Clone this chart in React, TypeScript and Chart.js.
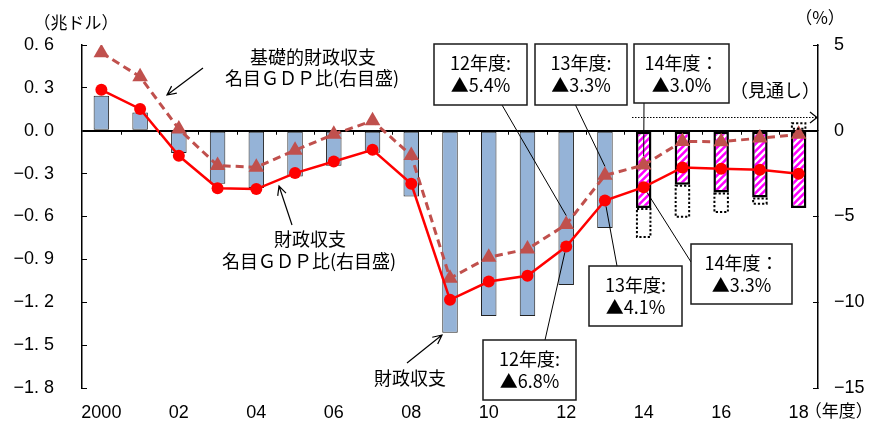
import React, { useEffect, useRef } from "react";
import { Chart, registerables } from "chart.js";

Chart.register(...registerables);

// ---------- data ----------
const years = [
  "2000", "2001", "2002", "2003", "2004", "2005", "2006", "2007", "2008", "2009",
  "2010", "2011", "2012", "2013", "2014", "2015", "2016", "2017", "2018",
];
const xTickLabels = [
  "2000", "", "02", "", "04", "", "06", "", "08", "", "10", "", "12", "", "14", "", "16", "", "18",
];
// 財政収支（兆ドル, 実績）
const balanceActual = [
  0.245, 0.128, -0.156, -0.371, -0.4, -0.32, -0.245, -0.154, -0.46, -1.413,
  -1.296, -1.296, -1.079, -0.68, null, null, null, null, null,
];
// 財政収支（兆ドル, 見通し）
const balanceOutlook = [
  null, null, null, null, null, null, null, null, null, null,
  null, null, null, null, -0.54, -0.378, -0.432, -0.467, -0.541,
];
// 前回見通しとの差（兆ドル, 点線枠）
const outlookRevision = [
  null, null, null, null, null, null, null, null, null, null,
  null, null, null, null, -0.21, -0.23, -0.144, -0.05, 0.06,
];
// 財政収支 名目GDP比（%, 右目盛）
const balanceRatio = [
  2.39, 1.27, -1.46, -3.35, -3.4, -2.47, -1.79, -1.11, -3.09, -9.86,
  -8.79, -8.46, -6.75, -4.07, -3.29, -2.14, -2.22, -2.28, -2.51,
];
// 基礎的財政収支 名目GDP比（%, 右目盛）
const primaryRatio = [
  4.55, 3.15, 0.1, -2.03, -2.13, -1.14, -0.21, 0.58, -1.44, -8.6,
  -7.38, -6.9, -5.47, -2.6, -2.0, -0.62, -0.64, -0.43, -0.21,
];
const leftTicks = { min: -1.8, max: 0.6, step: 0.3 };
const rightTicks = { min: -15, max: 5, step: 5 };

const JP = "'Noto Sans CJK JP', 'Noto Sans CJK SC', sans-serif";
const NUM = "'Liberation Sans Narrow', 'Arial Narrow', 'Liberation Sans', sans-serif";

function makeHatch(): CanvasPattern | string {
  const s = 7;
  const c = document.createElement("canvas");
  c.width = s;
  c.height = s;
  const g = c.getContext("2d");
  if (!g) return "#FF00FF";
  g.fillStyle = "#FF00FF";
  g.fillRect(0, 0, s, s);
  g.strokeStyle = "#FFFFFF";
  g.lineWidth = 2.4;
  g.beginPath();
  for (const off of [-s, 0, s]) {
    g.moveTo(-1 + off, s + 1);
    g.lineTo(s + 1 + off, -1);
  }
  g.stroke();
  const p = g.createPattern(c, "repeat");
  return p || "#FF00FF";
}

function arrow(ctx: CanvasRenderingContext2D, x1: number, y1: number, x2: number, y2: number) {
  ctx.save();
  ctx.strokeStyle = "#000";
  ctx.lineWidth = 1.2;
  ctx.beginPath();
  ctx.moveTo(x1, y1);
  ctx.lineTo(x2, y2);
  const a = Math.atan2(y2 - y1, x2 - x1);
  const L = 10;
  ctx.moveTo(x2 - L * Math.cos(a - 0.45), y2 - L * Math.sin(a - 0.45));
  ctx.lineTo(x2, y2);
  ctx.lineTo(x2 - L * Math.cos(a + 0.45), y2 - L * Math.sin(a + 0.45));
  ctx.stroke();
  ctx.restore();
}

function text(ctx: CanvasRenderingContext2D, s: string, x: number, y: number, size = 18, align: CanvasTextAlign = "center", font = JP) {
  ctx.save();
  ctx.fillStyle = "#000";
  ctx.font = `${size}px ${font}`;
  ctx.textAlign = align;
  ctx.textBaseline = "middle";
  ctx.fillText(s, x, y);
  ctx.restore();
}

const annotationPlugin = {
  id: "annotations",
  afterDatasetsDraw(chart: any) {
    const ctx: CanvasRenderingContext2D = chart.ctx;
    const x = chart.scales.x;
    const y = chart.scales.y;
    const y0 = y.getPixelForValue(0);

    // small tick marks on zero line between categories
    ctx.save();
    ctx.strokeStyle = "#000";
    ctx.lineWidth = 1;
    for (let i = 0; i < years.length - 1; i++) {
      const mx = Math.round((x.getPixelForValue(i) + x.getPixelForValue(i + 1)) / 2) + 0.5;
      ctx.beginPath();
      ctx.moveTo(mx, y0);
      ctx.lineTo(mx, y0 + 4);
      ctx.stroke();
    }
    ctx.restore();

    // dotted boxes (revision)
    const revMeta = chart.getDatasetMeta(4);
    ctx.save();
    ctx.strokeStyle = "#000";
    ctx.lineWidth = 2;
    ctx.setLineDash([2.2, 2]);
    revMeta.data.forEach((el: any, i: number) => {
      if (outlookRevision[i] == null) return;
      const { x: bx, y: by, base, width } = el.getProps(["x", "y", "base", "width"], true);
      const top = Math.min(by, base);
      const bot = Math.max(by, base);
      ctx.strokeRect(bx - width / 2 + 1, top + 1, width - 2, bot - top - 2);
    });
    ctx.restore();
  },
  afterDraw(chart: any) {
    const ctx: CanvasRenderingContext2D = chart.ctx;
    const x = chart.scales.x;
    const primMeta = chart.getDatasetMeta(0);
    const balMeta = chart.getDatasetMeta(1);

    // leader lines
    const lead = (sx: number, sy: number, p: any, r: number, tri: boolean) => {
      let ex = p.x, ey = p.y;
      if (tri) {
        ey = p.y - r;
      } else {
        const a = Math.atan2(sy - p.y, sx - p.x);
        ex = p.x + r * Math.cos(a);
        ey = p.y + r * Math.sin(a);
      }
      ctx.save();
      ctx.strokeStyle = "#000";
      ctx.lineWidth = 1;
      ctx.beginPath();
      ctx.moveTo(sx, sy);
      ctx.lineTo(ex, ey);
      ctx.stroke();
      ctx.restore();
    };
    lead(502, 105, primMeta.data[12], 9, true);
    lead(575, 104, primMeta.data[13], 9, true);
    lead(644, 103, primMeta.data[14], 9, true);
    lead(545, 340, balMeta.data[12], 6, false);
    lead(617, 266, balMeta.data[13], 6, false);
    lead(691, 262, balMeta.data[14], 6, false);

    // boxes
    const boxes: [number, number, number, number, string, string][] = [
      [434, 44, 93, 61, "12年度:", "▲5.4%"],
      [535, 44, 92, 61, "13年度:", "▲3.3%"],
      [634, 44, 95, 59, "14年度：", "▲3.0%"],
      [483, 340, 93, 60, "12年度:", "▲6.8%"],
      [589, 266, 93, 60, "13年度:", "▲4.1%"],
      [691, 244, 101, 60, "14年度：", "▲3.3%"],
    ];
    boxes.forEach(([bx, by, bw, bh, l1, l2]) => {
      ctx.save();
      ctx.fillStyle = "#fff";
      ctx.fillRect(bx, by, bw, bh);
      ctx.strokeStyle = "#1a1a1a";
      ctx.lineWidth = 1.5;
      ctx.strokeRect(bx, by, bw, bh);
      ctx.restore();
      text(ctx, l1, bx + bw / 2, by + 19, 18);
      text(ctx, l2, bx + bw / 2, by + 41, 18);
    });

    // series labels
    text(ctx, "基礎的財政収支", 313, 57, 18);
    text(ctx, "名目ＧＤＰ比(右目盛)", 312, 78, 18);
    arrow(ctx, 203, 68, 167, 95);

    text(ctx, "財政収支", 310, 239, 18);
    text(ctx, "名目ＧＤＰ比(右目盛)", 309, 261, 18);
    arrow(ctx, 292, 225, 279, 186);

    text(ctx, "財政収支", 410, 378, 18);
    arrow(ctx, 407, 363, 442, 335);

    // outlook arrow
    ctx.save();
    ctx.strokeStyle = "#000";
    ctx.lineWidth = 1.2;
    ctx.setLineDash([1.5, 1.5]);
    ctx.beginPath();
    ctx.moveTo(632, 117.5);
    ctx.lineTo(817, 117.5);
    ctx.stroke();
    ctx.setLineDash([]);
    ctx.beginPath();
    ctx.moveTo(810, 112);
    ctx.lineTo(817, 117.5);
    ctx.lineTo(810, 123);
    ctx.stroke();
    ctx.restore();
    text(ctx, "（見通し）", 775, 90, 18);

    // axis titles
    text(ctx, "（兆ドル）", 76, 23, 17);
    text(ctx, "（%）", 820, 18, 17);
    text(ctx, "（年度）", x.getPixelForValue(18) + 6, 411, 17, "left");
  },
};

export default function App() {
  const ref = useRef<HTMLCanvasElement | null>(null);

  useEffect(() => {
    if (!ref.current) return;
    const hatch = makeHatch();
    const chart = new Chart(ref.current, {
      type: "bar",
      data: {
        labels: years,
        datasets: [
          {
            type: "line",
            label: "基礎的財政収支 名目GDP比",
            data: primaryRatio,
            yAxisID: "y1",
            borderColor: "#C0504D",
            borderWidth: 3,
            borderDash: [8, 5],
            pointStyle: "triangle",
            pointRadius: 9,
            pointBackgroundColor: "#C0504D",
            pointBorderColor: "#C0504D",
            pointBorderWidth: 0,
            order: 1,
          } as any,
          {
            type: "line",
            label: "財政収支 名目GDP比",
            data: balanceRatio,
            yAxisID: "y1",
            borderColor: "#FF0000",
            borderWidth: 2.5,
            pointStyle: "circle",
            pointRadius: 6,
            pointBackgroundColor: "#FF0000",
            pointBorderColor: "#FF0000",
            pointBorderWidth: 0,
            order: 0,
          } as any,
          {
            type: "bar",
            label: "財政収支",
            data: balanceActual,
            yAxisID: "y",
            backgroundColor: "#95B3D7",
            borderColor: "#222",
            borderWidth: 1,
            borderSkipped: false,
            stack: "s",
            order: 4,
          } as any,
          {
            type: "bar",
            label: "財政収支（見通し）",
            data: balanceOutlook,
            yAxisID: "y",
            backgroundColor: hatch,
            borderColor: "#000",
            borderWidth: 2.5,
            borderSkipped: false,
            stack: "s",
            order: 2,
          } as any,
          {
            type: "bar",
            label: "前回見通し",
            data: outlookRevision,
            yAxisID: "y",
            backgroundColor: "rgba(0,0,0,0)",
            borderWidth: 0,
            stack: "s",
            order: 3,
          } as any,
        ],
      },
      options: {
        animation: false,
        responsive: false,
        devicePixelRatio: 1,
        layout: { autoPadding: false, padding: { top: 45, left: 0, right: 0, bottom: 0 } },
        datasets: { bar: { barPercentage: 0.4, categoryPercentage: 1 } },
        plugins: { legend: { display: false }, tooltip: { enabled: false } },
        scales: {
          x: {
            type: "category",
            stacked: true,
            offset: true,
            grid: { display: false },
            border: { display: false },
            ticks: {
              autoSkip: false,
              maxRotation: 0,
              padding: 6,
              color: "#000",
              font: { family: NUM, size: 18 },
              callback: (_v: any, i: number) => xTickLabels[i],
            },
            afterFit: (s: any) => { s.height = 34; s.paddingLeft = 0; s.paddingRight = 0; },
          },
          y: {
            position: "left",
            stacked: true,
            min: leftTicks.min,
            max: leftTicks.max,
            ticks: {
              stepSize: leftTicks.step,
              padding: 33,
              color: "#000",
              font: { family: NUM, size: 18 },
              callback: (v: any) => Number(v).toFixed(1).replace(".", ". ").replace("-", "−"),
            },
            grid: {
              color: (c: any) => (Math.abs(c.tick?.value ?? 1) < 1e-9 ? "#000" : "rgba(0,0,0,0)"),
              lineWidth: (c: any) => (Math.abs(c.tick?.value ?? 1) < 1e-9 ? 2 : 1),
              tickLength: -5,
              tickColor: "#000",
              tickWidth: 1,
            },
            border: { display: true, color: "#000", width: 1.5 },
            afterFit: (s: any) => { s.width = 82; s.paddingTop = 0; s.paddingBottom = 0; },
          },
          y1: {
            position: "right",
            min: rightTicks.min,
            max: rightTicks.max,
            ticks: {
              stepSize: rightTicks.step,
              padding: 21,
              color: "#000",
              font: { family: NUM, size: 18 },
              callback: (v: any) => String(v).replace("-", "−"),
            },
            grid: {
              drawOnChartArea: false,
              tickLength: -5,
              tickColor: "#000",
              tickWidth: 1,
            },
            border: { display: true, color: "#000", width: 1.5 },
            afterFit: (s: any) => { s.width = 56; s.paddingTop = 0; s.paddingBottom = 0; },
          },
        },
      } as any,
      plugins: [annotationPlugin],
    });
    return () => chart.destroy();
  }, []);

  return (
    <div style={{ position: "fixed", left: 0, top: 0, width: 874, height: 422, background: "#fff" }}>
      <canvas ref={ref} width={874} height={422} style={{ display: "block" }} />
    </div>
  );
}
